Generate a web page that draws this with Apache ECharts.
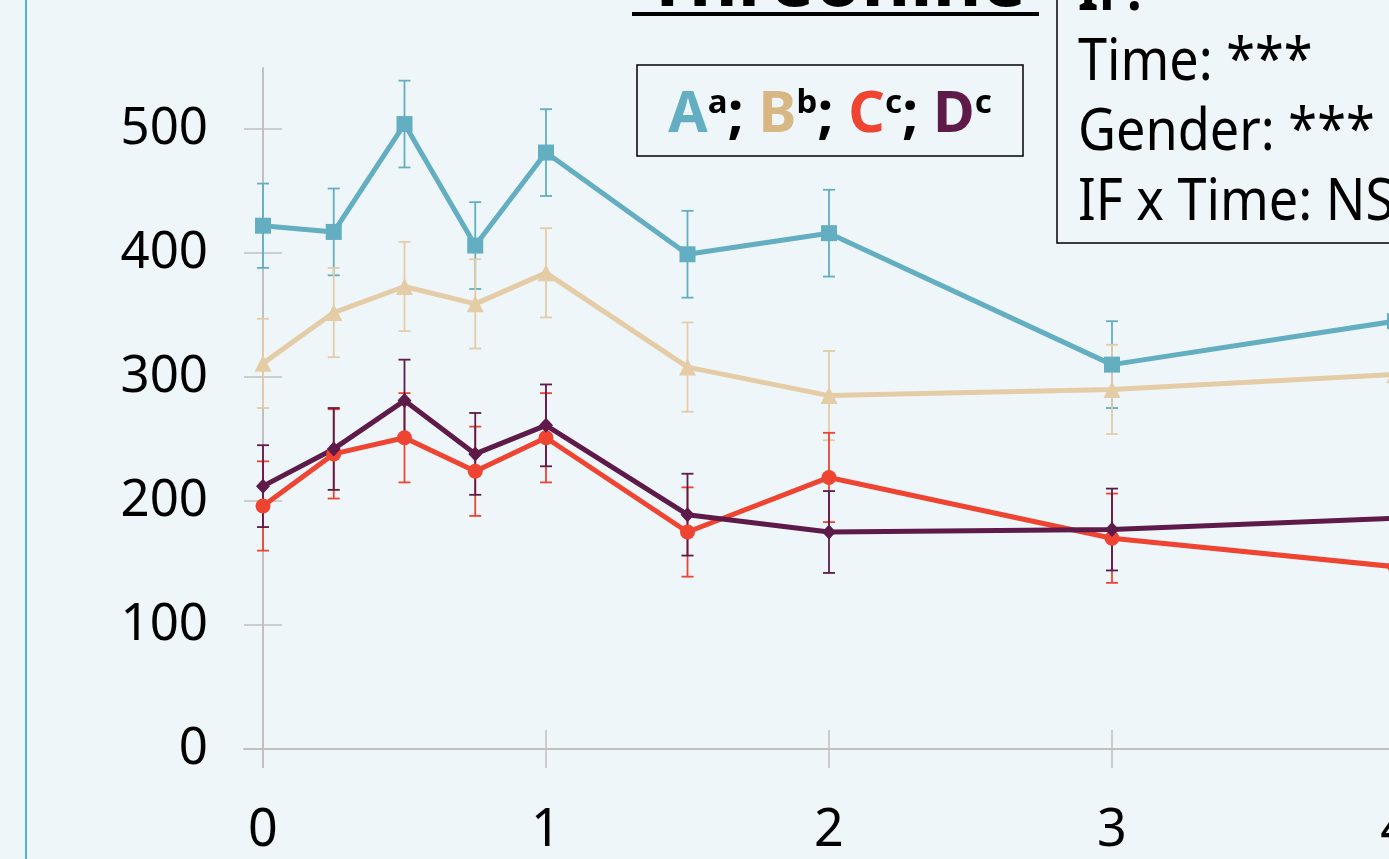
<!DOCTYPE html>
<html><head><meta charset="utf-8">
<script src="https://cdn.jsdelivr.net/npm/echarts@6/dist/echarts.min.js"></script>
<style>html,body{margin:0;padding:0;background:#EEF6F9;overflow:hidden;} #c{width:1389px;height:859px;}</style>
</head><body><div id="c"></div>
<script>
// ---- data ----
const timePoints = [0, 0.25, 0.5, 0.75, 1, 1.5, 2, 3, 4];
const xTicks = [0, 1, 2, 3, 4];
const yTicks = [0, 100, 200, 300, 400, 500];
const seriesNames = ['A', 'B', 'C', 'D'];
const meanA = [422, 417, 504, 406, 481, 399, 416, 310, 345];
const errA  = [34, 35, 35, 35, 35, 35, 35, 35, 35];
const meanB = [311, 352, 373, 359, 384, 308, 285, 290, 302];
const errB  = [36, 36, 36, 36, 36, 36, 36, 36, 36];
const meanC = [196, 238, 251, 224, 251, 175, 219, 170, 147];
const errC  = [36, 36, 36, 36, 36, 36, 36, 36, 36];
const meanD = [212, 242, 281, 238, 261, 189, 175, 177, 186];
const errD  = [33, 33, 33, 33, 33, 33, 33, 33, 33];
const titleText = 'Threonine';
const statLines = ['IF:', 'Time: ***', 'Gender: ***', 'IF x Time: NS'];
const groupLetters = ['a', 'b', 'c', 'c'];

// ---- style ----
const lineColors = ['#63AEC0', '#E4CCA6', '#EE4431', '#5E1A48'];
const legendColors = ['#63AEC0', '#D8B784', '#EE4431', '#5E1A48'];
const symbols = ['rect', 'triangle', 'circle', 'diamond'];
const symbolSizes = [16, 17, 15, [14, 15]];
const means = [meanA, meanB, meanC, meanD];
const errs = [errA, errB, errC, errD];
const FONT = '"Noto Sans", "Open Sans", sans-serif';
const AX = '#C0C0C0';

function errRender(color) {
  return function (params, api) {
    const x = api.value(0), lo = api.value(1), hi = api.value(2);
    const pLo = api.coord([x, lo]), pHi = api.coord([x, hi]);
    const hw = 6;
    const style = { stroke: color, lineWidth: 1.8 };
    return { type: 'group', children: [
      { type: 'line', shape: { x1: pLo[0], y1: pLo[1], x2: pHi[0], y2: pHi[1] }, style: style },
      { type: 'line', shape: { x1: pLo[0] - hw, y1: pLo[1], x2: pLo[0] + hw, y2: pLo[1] }, style: style },
      { type: 'line', shape: { x1: pHi[0] - hw, y1: pHi[1], x2: pHi[0] + hw, y2: pHi[1] }, style: style }
    ]};
  };
}

const series = [];
seriesNames.forEach(function (n, k) {
  series.push({
    name: n + ' err', type: 'custom', xAxisIndex: 0, yAxisIndex: 0, z: 2,
    renderItem: errRender(lineColors[k]),
    encode: { x: 0, y: [1, 2] },
    data: timePoints.map(function (t, i) { return [t, means[k][i] - errs[k][i], means[k][i] + errs[k][i]]; })
  });
});
seriesNames.forEach(function (n, k) {
  series.push({
    name: n, type: 'line', xAxisIndex: 0, yAxisIndex: 0, z: 3,
    symbol: symbols[k], symbolSize: symbolSizes[k], showSymbol: true,
    itemStyle: { color: lineColors[k] },
    lineStyle: { color: lineColors[k], width: 5 },
    emphasis: { disabled: true },
    data: timePoints.map(function (t, i) { return [t, means[k][i]]; }),
    animation: false
  });
});

const richStyles = {};
seriesNames.forEach(function (n, k) {
  richStyles['L' + k] = { fontSize: 57, fontWeight: 'bold', fill: legendColors[k], fontFamily: FONT, verticalAlign: 'top' };
});
richStyles.s = { fontSize: 33, fontWeight: 'bold', fill: '#000', fontFamily: FONT, verticalAlign: 'top' };
richStyles.p = { fontSize: 57, fontWeight: 'bold', fill: '#000', fontFamily: FONT, verticalAlign: 'top' };
const legendRich = seriesNames.map(function (n, k) {
  return '{L' + k + '|' + n + '}{s|' + groupLetters[k] + '}' + (k < 3 ? '{p|; }' : '');
}).join('');

const graphics = [
  { type: 'line', shape: { x1: 26, y1: 0, x2: 26, y2: 859 }, style: { stroke: '#4FB2D2', lineWidth: 2 } },
  { type: 'text', x: 836, y: -15, style: { text: titleText, fontSize: 75, fontWeight: 'bold', fontFamily: FONT, fill: '#000', align: 'center', verticalAlign: 'middle' } },
  { type: 'rect', shape: { x: 632, y: 12, width: 407, height: 4 }, style: { fill: '#000' } },
  { type: 'rect', shape: { x: 637, y: 65, width: 386, height: 91 }, style: { fill: 'none', stroke: '#000', lineWidth: 1.5 } },
  { type: 'text', x: 830, y: 87, style: { text: legendRich, rich: richStyles, align: 'center', verticalAlign: 'top' } },
  { type: 'rect', shape: { x: 1057, y: -10, width: 400, height: 253 }, style: { fill: 'none', stroke: '#000', lineWidth: 1.5 } }
];
statLines.forEach(function (s, i) {
  graphics.push({ type: 'text', x: 1078, y: -7 + 70 * i, scaleX: 0.9, originX: 0,
    style: { text: s, fontSize: 58, fontWeight: i === 0 ? 'bold' : 'normal', fontFamily: FONT, fill: '#000', align: 'left', verticalAlign: 'middle' } });
});

const xBase = { type: 'value', min: -0.0671, max: 4.2, gridIndex: 0, splitLine: { show: false } };
const yBase = { type: 'value', min: -14.5, max: 549.2, gridIndex: 0, splitLine: { show: false } };

const option = {
  backgroundColor: '#EEF6F9',
  animation: false,
  grid: { left: 244, top: 68, right: -62.6, bottom: 92, containLabel: false, outerBoundsMode: 'none' },
  xAxis: [
    Object.assign({}, xBase, {
      axisLine: { show: true, onZero: true, onZeroAxisIndex: 0, lineStyle: { color: AX, width: 2 } },
      axisTick: { show: true, inside: false, length: 19, customValues: xTicks, lineStyle: { color: AX, width: 1.5 } },
      axisLabel: { show: true, customValues: xTicks, margin: 38, fontSize: 52, color: '#000', fontFamily: FONT }
    }),
    Object.assign({}, xBase, {
      position: 'bottom',
      axisLine: { show: false, onZero: true, onZeroAxisIndex: 0 },
      axisTick: { show: true, inside: true, length: 19, customValues: xTicks, lineStyle: { color: AX, width: 1.5 } },
      axisLabel: { show: false }
    })
  ],
  yAxis: [
    Object.assign({}, yBase, {
      axisLine: { show: true, onZero: true, onZeroAxisIndex: 0, lineStyle: { color: AX, width: 2 } },
      axisTick: { show: true, inside: false, length: 19, customValues: yTicks, lineStyle: { color: AX, width: 1.5 } },
      axisLabel: { show: true, customValues: yTicks, margin: 36, fontSize: 51, color: '#000', fontFamily: FONT }
    }),
    Object.assign({}, yBase, {
      position: 'left',
      axisLine: { show: false, onZero: true, onZeroAxisIndex: 0 },
      axisTick: { show: true, inside: true, length: 19, customValues: yTicks, lineStyle: { color: AX, width: 1.5 } },
      axisLabel: { show: false }
    })
  ],
  series: series,
  graphic: graphics
};
const chart = echarts.init(document.getElementById('c'), null, { renderer: 'canvas' });
chart.setOption(option);
</script></body></html>
